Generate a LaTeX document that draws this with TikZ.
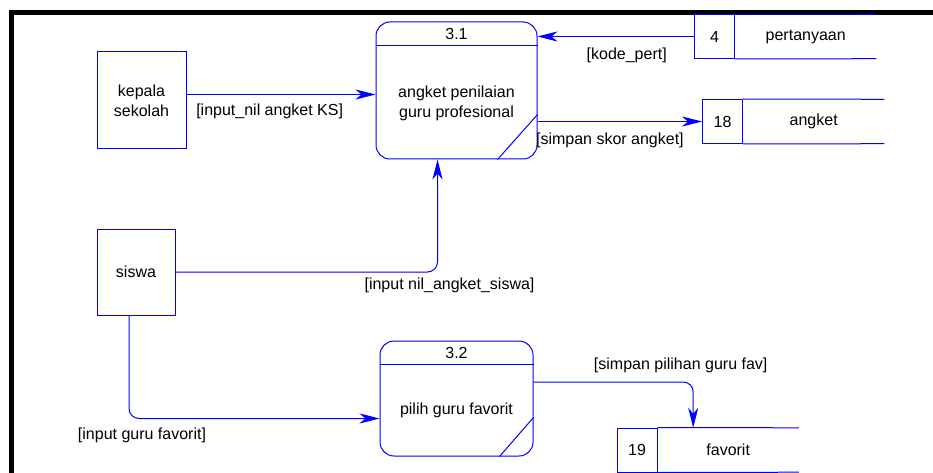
\documentclass[tikz,border=0pt]{standalone}
\usepackage{fontspec}
\setmainfont{Liberation Sans}
\usetikzlibrary{arrows.meta,positioning}

\begin{document}
\begin{tikzpicture}[x=1pt,y=-1pt,
    every node/.style={font=\fontsize{16}{20}\selectfont},
    ent/.style={draw=blue,line width=1pt,align=center,inner sep=0pt},
    proc/.style={draw=blue,line width=1pt,rounded corners=14pt,inner sep=0pt},
    storeid/.style={draw=blue,line width=1pt,minimum width=40pt,minimum
        height=44pt,inner sep=0pt},
    storename/.style={minimum width=141pt,minimum height=44pt,inner sep=0pt},
    flow/.style={draw=blue,line width=1pt,rounded corners=10pt,
        -{Stealth[length=20pt,width=10pt,inset=6pt]}},
    lbl/.style={inner sep=0pt}]
    \useasboundingbox (0,0) rectangle (933,473);

    % the frame
    \draw[line width=5pt] (11,490) -- (11,12.5) -- (950,12.5);

    % the externals
    \node[ent,minimum width=89pt,minimum height=97pt] (kepsek) at
    (141.5,100.5) {kepala\\sekolah};
    \node[ent,minimum width=78pt,minimum height=86pt] (siswa) at
    (136,272) {siswa};

    % the processes
    \node[proc,minimum width=161pt,minimum height=137pt] (proc1) at
    (456.5,90.5) {};
    \node[proc,minimum width=153pt,minimum height=115pt] (proc2) at
    (456.5,398.5) {};
    \foreach \p/\dx/\dy in {proc1/40/45,proc2/34/39}{
      \draw[blue,line width=1pt] ([yshift=-24]\p.north west) --
      ([yshift=-24]\p.north east);
      \draw[blue,line width=1pt] ([xshift=-\dx]\p.south east) --
      ([yshift=\dy]\p.south east);
    }
    \node (id1) at (456.5,34) {3.1};
    \node[align=center] (name1) at (456.5,103.5) {angket
      penilaian\\guru profesional};
    \node (id2) at (456.5,353) {3.2};
    \node (name2) at (456.5,410) {pilih guru favorit};

    % the data stores
    \node[storeid] (d4) at (714.5,36.5) {4};
    \node[storename,right=0pt of d4] (pertanyaan) {pertanyaan};
    \node[storeid] (d18) at (722.5,121.5) {18};
    \node[storename,right=0pt of d18] (angket) {angket};
    \node[storeid] (d19) at (637,450) {19};
    \node[storename,right=0pt of d19] (favorit) {favorit};
    \foreach \d/\n in {d4/pertanyaan,d18/angket,d19/favorit}
      \draw[blue,line width=1pt] (\d.north east) -- (\n.north east)
      (\d.south east) -- (\n.south east);

    % the flows
    \draw[flow] ([yshift=6]kepsek.east) -- node[lbl,pos=0.44,below=9pt]
    {[input\_nil angket KS]} ([yshift=6]kepsek.east -| proc1.west);
    \draw[flow] (d4.west) -- node[lbl,pos=0.43,below=10.5pt]
    {[kode\_pert]} (d4.west -| proc1.east);
    \draw[flow] (d18.west -| proc1.east) -- node[lbl,pos=0.44,below=10.5pt]
    {[simpan skor angket]} (d18.west);
    \draw[flow] (siswa.east) -| node[lbl,pos=0.5,anchor=north,xshift=12pt,
    yshift=-5pt] {[input nil\_angket\_siswa]} ([xshift=-19]proc1.south);
    \draw[flow] ([xshift=-7]siswa.south) |- node[lbl,pos=0.5,anchor=north,
    xshift=13pt,yshift=-8.5pt] {[input guru favorit]}
    ([yshift=-20]proc2.west);
    \draw[flow] ([yshift=16.5]proc2.east) -| node[lbl,pos=0.5,anchor=south,
    xshift=-12.5pt,yshift=9pt] {[simpan pilihan guru fav]}
    ([xshift=-35]favorit.north);

  \end{tikzpicture}
\end{document}
